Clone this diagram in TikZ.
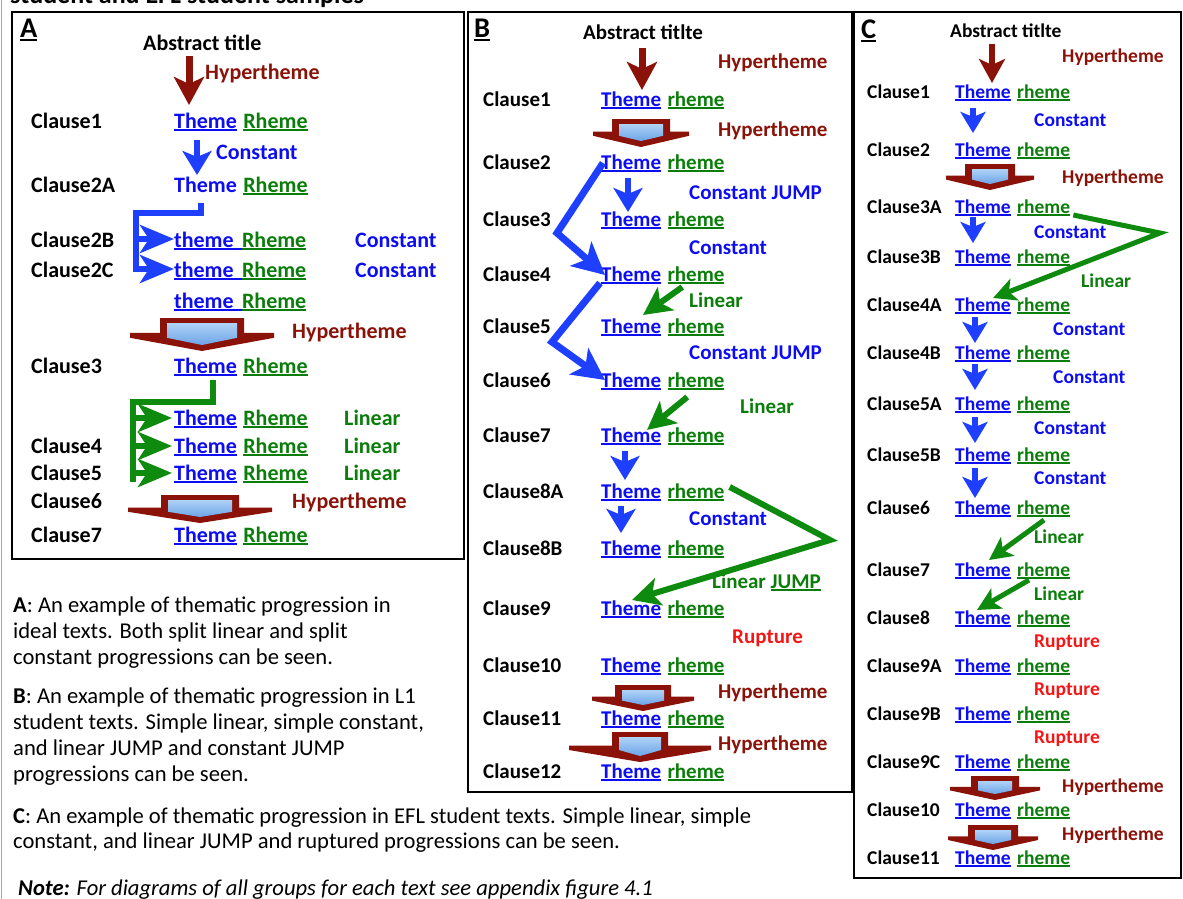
\documentclass[tikz,border=0pt]{standalone}
\usepackage{fontspec}
\setmainfont{Carlito}
\usetikzlibrary{arrows.meta}

\definecolor{themeBlue}{HTML}{0D0DF2}
\definecolor{rhemeGreen}{HTML}{0B7D0B}
\definecolor{hyRed}{HTML}{8A1208}
\definecolor{arrBlue}{HTML}{1F3FFF}
\definecolor{arrGreen}{HTML}{0E8A0E}
\definecolor{ruptRed}{HTML}{F51515}
\definecolor{skyTop}{HTML}{B0D2F7}
\definecolor{skyBottom}{HTML}{6CA4E6}

% panel fonts
\newcommand{\fontA}{\bfseries\fontsize{22}{26}\selectfont}
\newcommand{\fontB}{\bfseries\fontsize{21}{25}\selectfont}
\newcommand{\fontC}{\bfseries\fontsize{19.5}{23}\selectfont}
\newcommand{\fontL}{\bfseries\fontsize{28.5}{32}\selectfont}

% underline in the current colour
\newcommand{\ulin}[1]{\setbox0=\hbox{#1}\rlap{\rule[-3.2pt]{\wd0}{1.8pt}}\box0}

% hypertheme block arrow: centre x, top y, half box width, half wing width, height
\newcommand{\hyperblock}[5]{%
  \fill[hyRed] (#1-#3,#2) -- (#1+#3,#2) -- (#1+#3,#2+0.45*#5) -- (#1+#4,#2+0.45*#5)
    -- (#1+#4,#2+0.6*#5) -- (#1,#2+#5) -- (#1-#4,#2+0.6*#5) -- (#1-#4,#2+0.45*#5)
    -- (#1-#3,#2+0.45*#5) -- cycle;
  \shade[top color=skyTop, bottom color=skyBottom] (#1-#3+7,#2+5) -- (#1+#3-7,#2+5)
    -- (#1+#3-7,#2+0.6*#5) -- (#1,#2+#5-6) -- (#1-#3+7,#2+0.6*#5) -- cycle;
}

\tikzset{
  clause/.style={anchor=base west, inner sep=0pt},
  thm/.style={anchor=base west, inner sep=0pt, text=themeBlue},
  rhm/.style={anchor=base west, inner sep=0pt, text=rhemeGreen},
  hyplab/.style={anchor=base west, inner sep=0pt, text=hyRed},
  conlab/.style={anchor=base west, inner sep=0pt, text=themeBlue},
  linlab/.style={anchor=base west, inner sep=0pt, text=rhemeGreen},
  ruplab/.style={anchor=base west, inner sep=0pt, text=ruptRed},
  desc/.style={anchor=base west, inner sep=0pt, font=\fontsize{22.6}{26}\selectfont},
  panel/.style={draw=black, line width=2.5pt},
  hyarr/.style={draw=hyRed, line width=7pt, -{Stealth[length=28pt,width=30pt,inset=7pt]}},
  hyarrC/.style={draw=hyRed, line width=6pt, -{Stealth[length=24pt,width=26pt,inset=6pt]}},
  bluearr/.style={draw=arrBlue, line width=6.5pt, -{Stealth[length=24pt,width=29pt,inset=6pt]}},
  bluearrC/.style={draw=arrBlue, line width=6pt, -{Stealth[length=21pt,width=25pt,inset=5pt]}},
  jumparr/.style={draw=arrBlue, line width=7pt, -{Stealth[length=32pt,width=32pt,inset=8pt]}},
  greenarr/.style={draw=arrGreen, line width=6pt, -{Stealth[length=28pt,width=28pt,inset=7pt]}},
  greenarrC/.style={draw=arrGreen, line width=5pt, -{Stealth[length=23pt,width=23pt,inset=6pt]}},
  bluebar/.style={draw=arrBlue, line width=6pt},
  greenbar/.style={draw=arrGreen, line width=6pt},
  bluebr/.style={draw=arrBlue, line width=6pt, -{Stealth[length=34pt,width=28pt,inset=9pt]}},
  greenbr/.style={draw=arrGreen, line width=6pt, -{Stealth[length=34pt,width=28pt,inset=9pt]}},
}

\begin{document}
\begin{tikzpicture}[x=1pt, y=-1pt]
  \useasboundingbox (0,0) rectangle (1183,899);

  % left edge of the page frame
  \draw[gray!70, line width=1.5pt] (1.5,0) -- (1.5,899);

  % caption cut off at the top
  \node[clause, font=\bfseries\fontsize{26}{30}\selectfont] (cap) at (10,4) {student and EFL student samples};

  % ---------------- Panel A ----------------
  \draw[panel] (12,12) rectangle (464,559);
  \begin{scope}[every node/.append style={font=\fontA}]
    \node[clause, font=\fontL] (lblA) at (20,38) {\ulin{A}};
    \node[clause] (titA) at (143,51) {Abstract title};
    \node[hyplab] (hA1) at (205,80) {Hypertheme};

    % clause labels
    \foreach \n/\y in {1/128,2A/192,2B/247,2C/277,3/373,4/453,5/480,6/508,7/542}
      \node[clause] (cA\n) at (31,\y) {Clause\n};

    % theme and rheme
    \foreach \n/\y/\t/\g in {1/128/{\ulin{Theme}}/6, 2A/192/Theme/6,
        2B/247/{\ulin{theme\hspace{8pt}}}/0, 2C/277/{\ulin{theme\hspace{8pt}}}/0,
        2D/308/{\ulin{theme\hspace{8pt}}}/0, 3/373/{\ulin{Theme}}/6,
        3B/425/{\ulin{Theme}}/6, 4/453/{\ulin{Theme}}/6, 5/480/{\ulin{Theme}}/6,
        7/542/{\ulin{Theme}}/6}{
      \node[thm] (tA\n) at (174,\y) {\t};
      \node[rhm] (rA\n) at ([xshift=\g pt]tA\n.base east) {\ulin{Rheme}};
    }

    % progression labels
    \foreach \x/\y [count=\i] in {216/159, 355/247, 355/277}
      \node[conlab] (kA\i) at (\x,\y) {Constant};
    \foreach \y [count=\i] in {425,453,480}
      \node[linlab] (lA\i) at (344,\y) {Linear};
    \node[hyplab] (hA2) at (292,338) {Hypertheme};
    \node[hyplab] (hA3) at (292,508) {Hypertheme};
  \end{scope}

  \hyperblock{202}{318}{42}{72}{33}
  \hyperblock{200}{495}{39}{72}{28}

  \draw[hyarr] ([xshift=46pt,yshift=-5pt]titA.base west) -- ([xshift=15pt,yshift=23pt]tA1.base west);
  \draw[bluearr] ([xshift=23pt,yshift=-12pt]tA1.base west) -- ([xshift=23pt,yshift=17pt]tA2A.base west);

  % split constant
  \coordinate (bkA1) at (136,213);
  \coordinate (bkA2) at (136,272);
  \draw[bluebar] ([xshift=27pt,yshift=-11pt]tA2A.base west) |- (bkA1) -- (bkA2);
  \foreach \n in {2B,2C}
    \draw[bluebr] ([yshift=8pt]tA\n.base west) ++(-38,0) -- ++(38,0);

  % split linear
  \coordinate (bkA3) at (133,402);
  \coordinate (bkA4) at (133,482);
  \draw[greenbar] ([xshift=39pt,yshift=-7pt]tA3.base west) |- (bkA3) -- (bkA4);
  \foreach \n in {3B,4,5}
    \draw[greenbr] ([xshift=-2pt,yshift=7pt]tA\n.base west) ++(-37,0) -- ++(37,0);

  % ---------------- Panel B ----------------
  \draw[panel] (468,12) rectangle (852,792);
  \begin{scope}[every node/.append style={font=\fontB}]
    \node[clause, font=\fontL] (lblB) at (474,38) {\ulin{B}};
    \node[clause] (titB) at (583,40) {Abstract titlte};

    \foreach \n/\y in {1/106,2/169,3/226,4/281,5/333,6/387,7/442,8A/498,8B/555,9/615,10/672,11/725,12/778}{
      \node[clause] (cB\n) at (483,\y) {Clause\n};
      \node[thm] (tB\n) at (601,\y) {\ulin{Theme}};
      \node[rhm] (rB\n) at ([xshift=6pt]tB\n.base east) {\ulin{rheme}};
    }

    \foreach \y [count=\i] in {68,136,698,750}
      \node[hyplab] (hB\i) at (718,\y) {Hypertheme};
    \node[conlab] (kB1) at (689,199) {Constant JUMP};
    \node[conlab] (kB2) at (689,254) {Constant};
    \node[conlab] (kB3) at (689,359) {Constant JUMP};
    \node[conlab] (kB4) at (689,525) {Constant};
    \node[linlab] (lB1) at (689,307) {Linear};
    \node[linlab] (lB2) at (740,413) {Linear};
    \node[linlab] (lB3) at (712,588) {Linear \ulin{JUMP}};
    \node[ruplab] (uB1) at (732,643) {Rupture};
  \end{scope}

  \hyperblock{641}{119}{29}{48}{28}
  \hyperblock{643}{685}{28}{51}{26}
  \hyperblock{640}{732}{28}{71}{30}

  \draw[hyarr] ([xshift=59pt,yshift=-8pt]titB.base west) -- ([xshift=41pt,yshift=16pt]tB1.base west);
  \foreach \a/\b/\dx/\ya/\yb in {2/3/27/-9/14, 7/8A/24/-9/18, 8A/8B/20/-8/22}
    \draw[bluearr] ([xshift=\dx pt,yshift=\ya pt]tB\a.base west) -- ([xshift=\dx pt,yshift=\yb pt]tB\b.base west);

  % constant jumps
  \coordinate (zgB1) at (557,233);
  \coordinate (zgB2) at (552,342);
  \draw[jumparr] ([xshift=2pt,yshift=6pt]tB2.base west) -- (zgB1) -- ([xshift=4pt,yshift=6pt]tB4.base west);
  \draw[jumparr] ([xshift=-1pt,yshift=-2pt]tB4.base west) -- (zgB2) -- ([xshift=4pt,yshift=7pt]tB6.base west);

  % linear and linear jump
  \draw[greenarr] ([xshift=15pt,yshift=-6pt]rB4.base west) -- ([xshift=42pt,yshift=18pt]tB5.base west);
  \draw[greenarr] ([xshift=20pt,yshift=-10pt]rB6.base west) -- ([xshift=46pt,yshift=12pt]tB7.base west);
  \coordinate (zgB3) at (830,540);
  \draw[greenarr] ([xshift=5pt,yshift=11pt]rB8A.base east) -- (zgB3) -- ([xshift=31pt,yshift=15pt]tB9.base west);

  % ---------------- Panel C ----------------
  \draw[panel] (854,12) rectangle (1181,878);
  \begin{scope}[every node/.append style={font=\fontC}]
    \node[clause, font=\fontL] (lblC) at (861,39) {\ulin{C}};
    \node[clause] (titC) at (950,38) {Abstract titlte};

    \foreach \n/\y in {1/98,2/156,3A/213,3B/263,4A/311,4B/359,5A/410,5B/461,6/514,7/576,8/624,9A/672,9B/720,9C/768,10/816,11/864}{
      \node[clause] (cC\n) at (867,\y) {Clause\n};
      \node[thm] (tC\n) at (955,\y) {\ulin{Theme}};
      \node[rhm] (rC\n) at ([xshift=6pt]tC\n.base east) {\ulin{rheme}};
    }

    \foreach \y [count=\i] in {63,183,792,840}
      \node[hyplab] (hC\i) at (1062,\y) {Hypertheme};
    \foreach \x/\y [count=\i] in {1034/126,1034/238,1053/335,1053/383,1034/434,1034/484}
      \node[conlab] (kC\i) at (\x,\y) {Constant};
    \foreach \x/\y [count=\i] in {1081/287,1034/543,1034/600}
      \node[linlab] (lC\i) at (\x,\y) {Linear};
    \foreach \y [count=\i] in {647,695,743}
      \node[ruplab] (uC\i) at (1034,\y) {Rupture};
  \end{scope}

  \hyperblock{990}{164}{25}{44}{26}
  \hyperblock{995}{776}{24}{45}{24}
  \hyperblock{993}{825}{25}{45}{25}

  \draw[hyarrC] ([xshift=42pt,yshift=-6pt]titC.base west) -- ([xshift=37pt,yshift=15pt]tC1.base west);
  \foreach \a/\b/\dx/\ya/\yb in {1/2/18/-10/23, 3A/3B/18/-4/20, 4A/4B/20/-6/16, 4B/5A/20/-5/20, 5A/5B/20/-7/18, 5B/6/20/-7/16}
    \draw[bluearrC] ([xshift=\dx pt,yshift=\ya pt]tC\a.base west) -- ([xshift=\dx pt,yshift=\yb pt]tC\b.base west);
  \coordinate (zgC1) at (1160,233);
  \draw[greenarrC] ([xshift=3pt,yshift=-2pt]rC3A.base east) -- (zgC1) -- ([xshift=38pt,yshift=13pt]tC4A.base west);
  \draw[greenarrC] ([xshift=27pt,yshift=-6pt]rC6.base west) -- ([xshift=34pt,yshift=16pt]tC7.base west);
  \draw[greenarrC] ([xshift=12pt,yshift=-4pt]rC7.base west) -- ([xshift=22pt,yshift=14pt]tC8.base west);

  % ---------------- Descriptions ----------------
  \foreach \y/\t [count=\i] in {
      612/{\textbf{A}: An example of thematic progression in},
      638/{ideal texts. Both split linear and split},
      664/{constant progressions can be seen.},
      703/{\textbf{B}: An example of thematic progression in L1},
      729/{student texts. Simple linear, simple constant,},
      755/{and linear JUMP and constant JUMP},
      781/{progressions can be seen.},
      823/{\textbf{C}: An example of thematic progression in EFL student texts. Simple linear, simple},
      848/{constant, and linear JUMP and ruptured progressions can be seen.}}
    \node[desc] (d\i) at (13,\y) {\t};
  \node[desc] (note) at (18,895) {\textbf{\textit{Note:}} \textit{For diagrams of all groups for each text see appendix figure 4.1}};
\end{tikzpicture}
\end{document}
